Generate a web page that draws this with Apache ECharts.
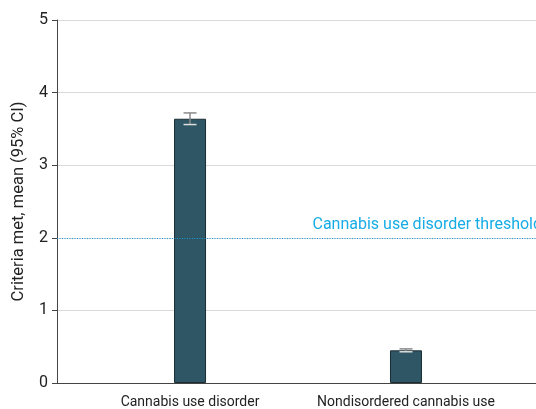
<!DOCTYPE html>
<html><head><meta charset="utf-8">
<script src="https://cdn.jsdelivr.net/npm/echarts@6/dist/echarts.min.js"></script>
<style>html,body{margin:0;padding:0;background:#fff}#c{width:536px;height:409px}</style>
</head><body><div id="c"></div>
<script>
const categories = ["Cannabis use disorder", "Nondisordered cannabis use"];
const means = [3.64, 0.45];
const ciLow = [3.56, 0.43];
const ciHigh = [3.72, 0.47];
const yTicks = [0, 1, 2, 3, 4, 5];
const threshold = 2;
const thresholdLabel = "Cannabis use disorder threshold";
const FONT = "Roboto, sans-serif";

const chart = echarts.init(document.getElementById('c'));
chart.setOption({
  animation: false,
  grid: { left: 57, right: 0, top: 20, bottom: 21, containLabel: false },
  xAxis: {
    type: 'value', min: -0.616, max: 1.602,
    splitLine: { show: false },
    axisLine: { show: true, onZero: false, lineStyle: { color: '#444', width: 1 } },
    axisTick: { show: false },
    axisLabel: {
      customValues: [0, 1],
      formatter: v => categories[Math.round(v)],
      color: '#222', fontSize: 14, fontFamily: FONT, margin: 12
    }
  },
  yAxis: {
    type: 'value', min: 0, max: 5, interval: 1,
    name: 'Criteria met, mean (95% CI)', nameLocation: 'middle', nameGap: 30,
    nameTextStyle: { color: '#222', fontSize: 16.5, fontFamily: FONT },
    axisLine: { show: true, onZero: false, lineStyle: { color: '#444', width: 1 } },
    axisTick: { show: true, length: 5, lineStyle: { color: '#444' } },
    axisLabel: { color: '#222', fontSize: 16, fontFamily: FONT, margin: 9 },
    splitLine: { show: true, lineStyle: { color: '#d9d9d9', width: 1 } }
  },
  series: [
    {
      type: 'bar', barWidth: 32,
      data: means.map((m, i) => [i, m]),
      itemStyle: { color: '#2f5664', borderColor: '#1c2e35', borderWidth: 1 },
      markLine: {
        silent: true, symbol: 'none',
        lineStyle: { type: [1, 1.5], color: '#1a9fd8', width: 1 },
        label: {
          show: true, position: 'insideEndTop', formatter: thresholdLabel,
          color: '#17ace6', fontSize: 16, fontFamily: FONT, distance: [0, 5], offset: [6, 0]
        },
        data: [{ yAxis: threshold }]
      },
      z: 2
    },
    {
      type: 'custom',
      data: means.map((m, i) => [i, ciLow[i], ciHigh[i]]),
      renderItem: (params, api) => {
        const x = api.value(0);
        const lo = api.coord([x, api.value(1)]);
        const hi = api.coord([x, api.value(2)]);
        const hw = 6.5;
        const st = { stroke: '#8a8a8a', lineWidth: 1.5 };
        return { type: 'group', children: [
          { type: 'line', shape: { x1: lo[0], y1: lo[1], x2: hi[0], y2: hi[1] }, style: st },
          { type: 'line', shape: { x1: lo[0]-hw, y1: lo[1], x2: lo[0]+hw, y2: lo[1] }, style: Object.assign({}, st, {stroke: '#dddddd'}) },
          { type: 'line', shape: { x1: hi[0]-hw, y1: hi[1], x2: hi[0]+hw, y2: hi[1] }, style: st }
        ]};
      },
      z: 3
    }
  ]
});
</script></body></html>
